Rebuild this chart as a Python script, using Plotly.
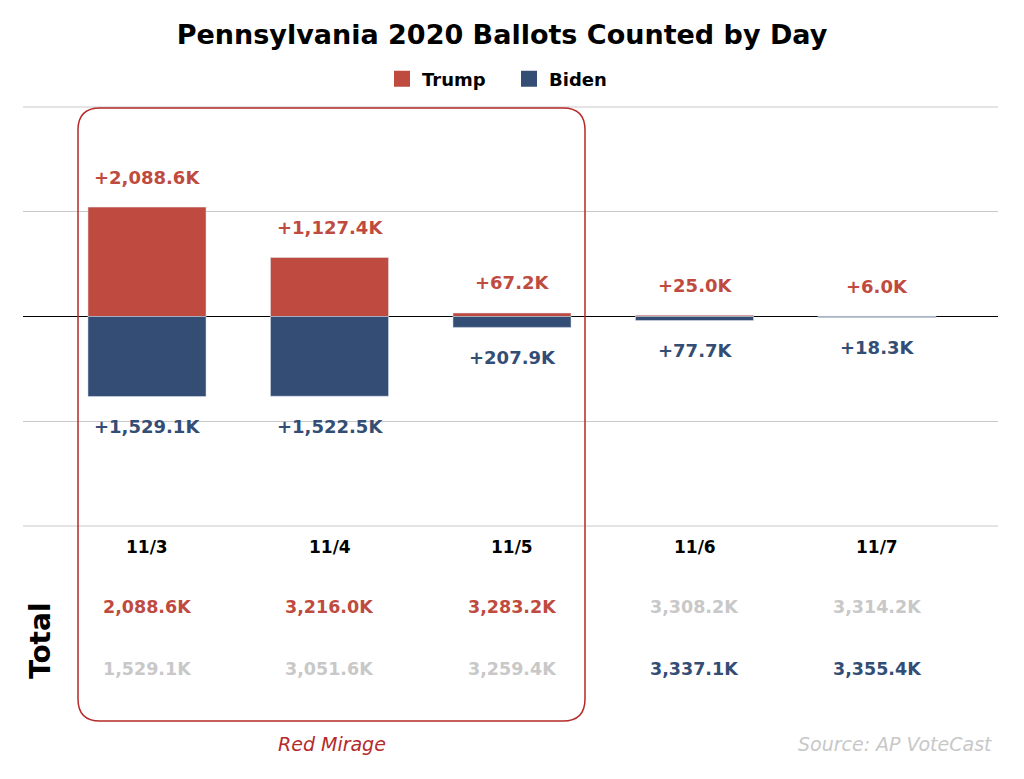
import plotly.graph_objects as go

# ballots counted per day, in thousands
days = ["11/3", "11/4", "11/5", "11/6", "11/7"]
trump_daily = [2088.6, 1127.4, 67.2, 25.0, 6.0]
biden_daily = [1529.1, 1522.5, 207.9, 77.7, 18.3]
trump_total = [2088.6, 3216.0, 3283.2, 3308.2, 3314.2]
biden_total = [1529.1, 3051.6, 3259.4, 3337.1, 3355.4]

RED = "#bf4b40"
BLUE = "#334d75"
GRAY = "#c8c8c8"
FONT = "DejaVu Sans"

# page body margin of the browser
OFF = 8
W, H = 1024 - OFF, 779 - OFF
# plot area in screen pixels, used to place the text below the axis
TOP, BOTTOM, LEFT, RIGHT = 107, 526, 23, 998


def py(pix):
    return (BOTTOM - pix) / (BOTTOM - TOP)


def px(pix):
    return (pix - LEFT) / (RIGHT - LEFT)


x = list(range(len(days)))

fig = go.Figure()
fig.add_trace(go.Bar(x=x, y=trump_daily, name="Trump", marker_color=RED,
                     width=0.647, hoverinfo="skip", showlegend=False))
fig.add_trace(go.Bar(x=x, y=[-v for v in biden_daily], name="Biden", marker_color=BLUE,
                     width=0.647, hoverinfo="skip", showlegend=False))
# legend entries with bigger squares
for name, col in [("Trump", RED), ("Biden", BLUE)]:
    fig.add_trace(go.Scatter(x=[None], y=[None], mode="markers", name=name,
                             marker=dict(symbol="square", size=18, color=col)))

ann = []
for i in x:
    ann.append(dict(x=i, y=trump_daily[i], text="+{:,.1f}K".format(trump_daily[i]),
                    yshift=30, yanchor="middle", showarrow=False,
                    font=dict(color=RED, size=18, family=FONT, weight="bold")))
    ann.append(dict(x=i, y=-biden_daily[i], text="+{:,.1f}K".format(biden_daily[i]),
                    yshift=-30, yanchor="middle", showarrow=False,
                    font=dict(color=BLUE, size=18, family=FONT, weight="bold")))
    ann.append(dict(x=i, y=py(547), yref="paper", text=days[i], showarrow=False,
                    yanchor="middle",
                    font=dict(color="black", size=17, family=FONT, weight="bold")))
    trump_leads = trump_total[i] > biden_total[i]
    ann.append(dict(x=i, y=py(607), yref="paper", text="{:,.1f}K".format(trump_total[i]),
                    showarrow=False, yanchor="middle",
                    font=dict(color=RED if trump_leads else GRAY, size=17.5,
                              family=FONT, weight="bold")))
    ann.append(dict(x=i, y=py(669), yref="paper", text="{:,.1f}K".format(biden_total[i]),
                    showarrow=False, yanchor="middle",
                    font=dict(color=GRAY if trump_leads else BLUE, size=17.5,
                              family=FONT, weight="bold")))

ann.append(dict(x=px(40), y=py(641), xref="paper", yref="paper", text="Total",
                textangle=-90, showarrow=False, xanchor="center", yanchor="middle",
                font=dict(color="black", size=28, family=FONT, weight="bold")))
ann.append(dict(x=px(332), y=py(744), xref="paper", yref="paper", text="<i>Red Mirage</i>",
                showarrow=False, xanchor="center", yanchor="middle",
                font=dict(color="#b52a2a", size=19, family=FONT)))
ann.append(dict(x=px(995), y=py(744), xref="paper", yref="paper",
                text="<i>Source: AP VoteCast</i>", showarrow=False,
                xanchor="right", yanchor="middle",
                font=dict(color=GRAY, size=19, family=FONT)))

# rounded box around the first three days
x1, x2 = px(78), px(585)
yt, yb = py(108), py(721)
rx, ry = 22 / (RIGHT - LEFT), 22 / (BOTTOM - TOP)
path = (f"M {x1+rx},{yt} L {x2-rx},{yt} Q {x2},{yt} {x2},{yt-ry} "
        f"L {x2},{yb+ry} Q {x2},{yb} {x2-rx},{yb} L {x1+rx},{yb} "
        f"Q {x1},{yb} {x1},{yb+ry} L {x1},{yt-ry} Q {x1},{yt} {x1+rx},{yt} Z")

# outer grid lines at the edges of the y range
shapes = [dict(type="line", xref="paper", x0=0, x1=1, yref="paper", y0=v, y1=v,
               line=dict(color=GRAY, width=1), layer="below") for v in (1, 0)]
shapes.append(dict(type="path", path=path, xref="paper", yref="paper",
                   line=dict(color="#b52a2a", width=1.5), layer="above"))

fig.update_layout(
    width=W, height=H,
    margin=dict(l=LEFT - OFF, r=W - (RIGHT - OFF), t=TOP - OFF, b=H - (BOTTOM - OFF)),
    barmode="relative",
    plot_bgcolor="white", paper_bgcolor="white",
    title=dict(text="<b>Pennsylvania 2020 Ballots Counted by Day</b>",
               x=(502 - OFF) / W, xanchor="center", y=1 - (35 - OFF) / H, yanchor="middle",
               font=dict(size=27, color="black", family=FONT)),
    legend=dict(orientation="h", x=px(509), xanchor="center", y=py(79), yanchor="middle",
                entrywidth=82,
                font=dict(size=18, color="black", family=FONT, weight="bold")),
    annotations=ann,
    shapes=shapes,
    xaxis=dict(range=[-(147 - LEFT) / 182.5, 4 + (RIGHT - 877) / 182.5],
               showticklabels=False, showgrid=False, zeroline=False, fixedrange=True),
    yaxis=dict(range=[-4000, 4000], tickvals=[-2000, 2000],
               showticklabels=False, gridcolor=GRAY, gridwidth=1, zeroline=True,
               zerolinecolor="black", zerolinewidth=1),
)

fig.write_html("out.html")
